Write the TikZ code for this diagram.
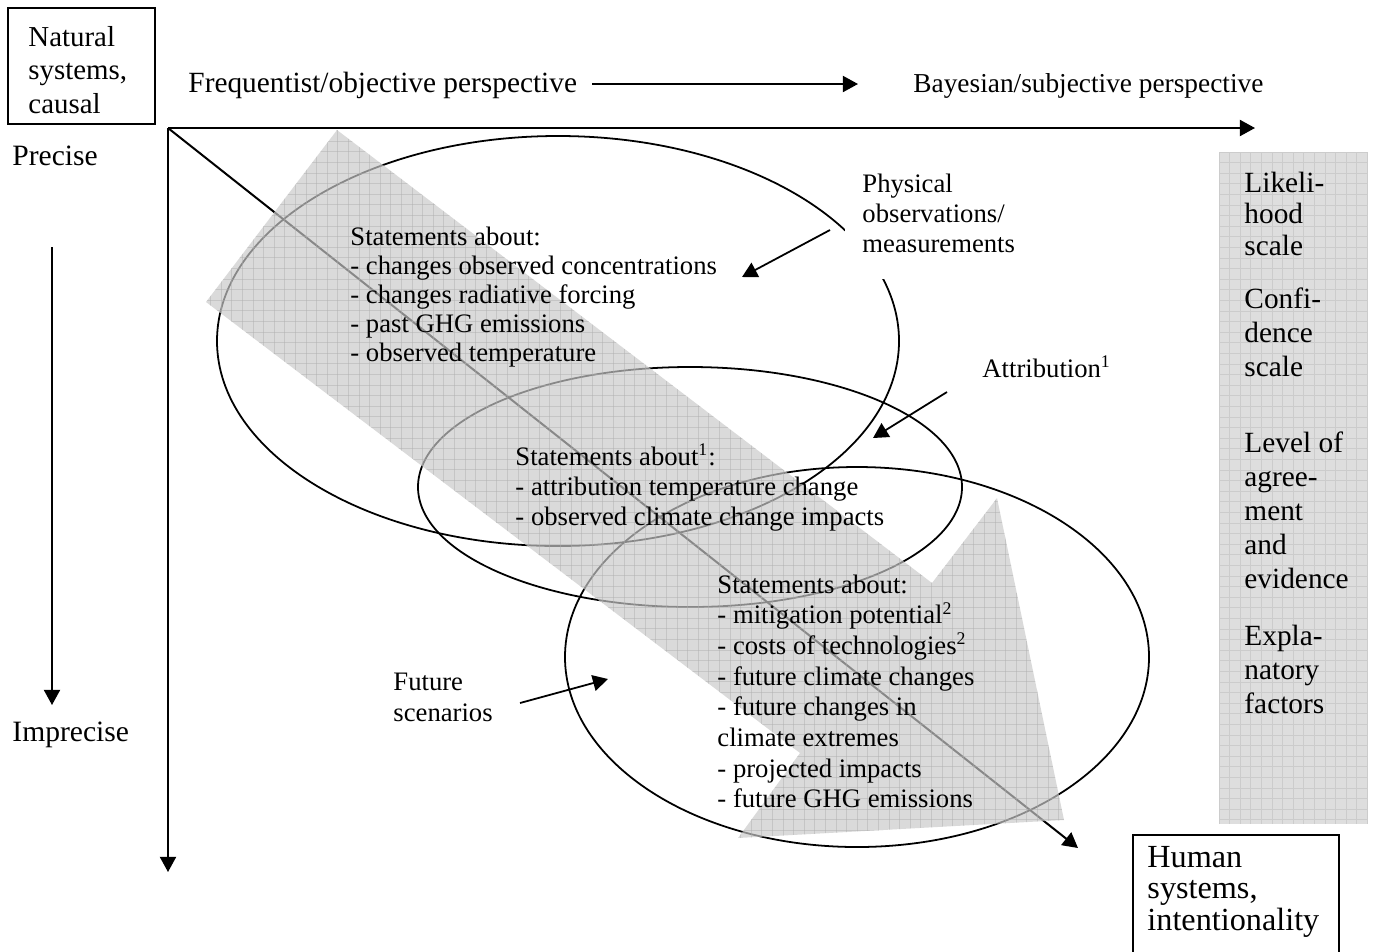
\documentclass[tikz,border=0pt]{standalone}
\usepackage{fontspec}
\setmainfont{Liberation Serif}
\usetikzlibrary{arrows.meta,shapes.geometric}
\newcommand{\mlines}[1]{\begin{tabular}[t]{@{}l@{}}#1\end{tabular}}
\definecolor{panelgray}{RGB}{222,222,222}
\definecolor{gridgray}{RGB}{204,204,204}
\definecolor{bandgray}{RGB}{201,201,201}
\definecolor{bandgrid}{RGB}{172,172,172}
\tikzset{
  lbl/.style={inner sep=0pt, anchor=base west},
  boxline/.style={draw, line width=0.9pt, inner sep=0pt, anchor=north west},
  axisline/.style={line width=0.9pt, -{Triangle[length=6.8pt,width=7.2pt]}},
  pointer/.style={line width=0.8pt, -{Triangle[length=6.8pt,width=7.2pt]}},
  ell/.style={ellipse, draw, line width=0.8pt, inner sep=0pt},
  gridln/.style={line width=0.35pt},
  fbig/.style={font=\fontsize{13.2}{15.3}\selectfont},
  fnorm/.style={font=\fontsize{12}{13.2}\selectfont},
}
\begin{document}
\begin{tikzpicture}[x=0.45pt,y=-0.45pt]
\useasboundingbox (0,0) rectangle (1375,951);
\clip (0,0) rectangle (1375,951);

% right panel (grey grid)
\fill[panelgray] (1219,152) rectangle (1368,824);
\begin{scope}
  \clip (1219,152) rectangle (1368,824);
  \foreach \i in {0,...,14} \draw[gridgray, gridln] (1219+\i*10.6,152) -- ++(0,672);
  \foreach \j in {0,...,63} \draw[gridgray, gridln] (1219,152+\j*10.6) -- ++(149,0);
\end{scope}

% coordinates
\coordinate (O) at (168,128);
\coordinate (xend) at (1255,128);
\coordinate (yend) at (168,872);
\coordinate (dend) at (1078,848);

% ellipses
\node[ell, minimum width=306.9pt, minimum height=184.5pt] (e1) at (558,341) {};
\node[ell, minimum width=244.8pt, minimum height=108pt] (e2) at (690,487) {};
\node[ell, minimum width=262.8pt, minimum height=171pt] (e3) at (857,657) {};

% axes
\draw[axisline] (O) -- (xend);
\draw[axisline] (O) -- (yend);
\draw[axisline] (O) -- (dend);

% white area behind the physical observations label
\fill[white] (845,160) rectangle (1030,279);

% big grey arrow
\path[fill=bandgray, fill opacity=0.68]
  (337,130) -- (932,583) -- (997,498) -- (1064,820) -- (738,838) -- (800,753) -- (206,302) -- cycle;
\begin{scope}
  \clip (337,130) -- (932,583) -- (997,498) -- (1064,820) -- (738,838) -- (800,753) -- (206,302) -- cycle;
  \foreach \i in {0,...,82} \draw[bandgrid, gridln, draw opacity=0.45] (200+\i*10.6,120) -- ++(0,730);
  \foreach \j in {0,...,69} \draw[bandgrid, gridln, draw opacity=0.45] (200,120+\j*10.6) -- ++(870,0);
\end{scope}

% boxes
\node[boxline, minimum width=66.15pt, minimum height=52.2pt] (natbox) at (7,7) {};
\node[boxline, minimum width=92.7pt, minimum height=56pt] (humbox) at (1132,834) {};

% texts
\node[lbl, font=\fontsize{13}{15.1}\selectfont] (nat) at (28,46) {\mlines{Natural\\systems,\\causal}};
\node[lbl, fbig] (freq) at (188,92) {Frequentist/objective perspective};
\node[lbl, font=\fontsize{12.3}{14}\selectfont] (bayes) at (913,92) {Bayesian/subjective perspective};
\node[lbl, font=\fontsize{13.3}{15}\selectfont] (precise) at (12,165) {Precise};
\node[lbl, font=\fontsize{13.3}{15}\selectfont] (imprecise) at (12,741) {Imprecise};

\node[lbl, font=\fontsize{12}{13.16}\selectfont] (s1) at (350,245) {\mlines{Statements about:\\- changes observed concentrations\\- changes radiative forcing\\- past GHG emissions\\- observed temperature}};
\node[lbl, font=\fontsize{12}{13.7}\selectfont] (s2) at (515,465) {\mlines{Statements about\textsuperscript{1}:\\- attribution temperature change\\- observed climate change impacts}};
\node[lbl, font=\fontsize{12}{13.8}\selectfont] (s3) at (717,593) {\mlines{Statements about:\\- mitigation potential\textsuperscript{2}\\- costs of technologies\textsuperscript{2}\\- future climate changes\\- future changes in\\climate extremes\\- projected impacts\\- future GHG emissions}};

\node[lbl, font=\fontsize{12}{13.7}\selectfont] (phys) at (862,192) {\mlines{Physical\\observations/\\measurements}};
\node[lbl, fnorm] (attr) at (982,377) {Attribution\textsuperscript{1}};
\node[lbl, font=\fontsize{12}{14}\selectfont] (future) at (393,690) {\mlines{Future\\scenarios}};

\node[lbl, font=\fontsize{13.2}{14.3}\selectfont] (likeli) at (1244,192) {\mlines{Likeli-\\hood\\scale}};
\node[lbl, fbig] (confi) at (1244,308) {\mlines{Confi-\\dence\\scale}};
\node[lbl, fbig] (level) at (1244,452) {\mlines{Level of\\agree-\\ment\\and\\evidence}};
\node[lbl, fbig] (expla) at (1244,645) {\mlines{Expla-\\natory\\factors}};

\node[lbl, font=\fontsize{14.5}{14.1}\selectfont] (human) at (1147,867) {\mlines{Human\\systems,\\intentionality}};

% pointer arrows
\coordinate (fa1) at (592,84);
\coordinate (fa2) at (858,84);
\draw[axisline] (fa1) -- (fa2);
\coordinate (pa1) at (52,247);
\coordinate (pa2) at (52,705);
\draw[axisline] (pa1) -- (pa2);
\coordinate (po1) at (830,230);
\coordinate (po2) at (742,277);
\draw[pointer] (po1) -- (po2);
\coordinate (at1) at (947,392);
\coordinate (at2) at (873,438);
\draw[pointer] (at1) -- (at2);
\coordinate (fu1) at (520,703);
\coordinate (fu2) at (608,679);
\draw[pointer] (fu1) -- (fu2);
\end{tikzpicture}
\end{document}
